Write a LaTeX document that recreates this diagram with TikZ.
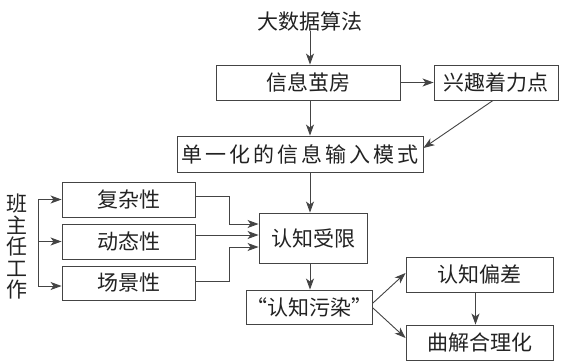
\documentclass[tikz,border=0pt]{standalone}
\usepackage{fontspec}
\newfontfamily\cjk{Noto Sans CJK SC}
\newfontfamily\cjkwide[LetterSpace=14]{Noto Sans CJK SC}
\usetikzlibrary{arrows.meta,calc}
\definecolor{ln}{HTML}{444444}
\definecolor{tx}{HTML}{222222}
\begin{document}
\begin{tikzpicture}[x=1pt,y=-1pt,
  txt/.style={inner sep=0pt, text=tx, font=\cjk\fontsize{21}{24}\selectfont},
  box/.style={txt, draw=ln, line width=0.9pt},
  arr/.style={draw=ln, line width=0.9pt, -{Stealth[length=11pt,width=8pt,inset=3pt]}},
  ln/.style={draw=ln, line width=0.9pt}]
\useasboundingbox (0,0) rectangle (562,362);
\node[txt] (algo) at (310,21) {大数据算法};
\node[box, minimum width=184pt, minimum height=35pt] (cocoon) at (308,82.5) {信息茧房};
\node[box, minimum width=124pt, minimum height=35pt] (interest) at (496,82.5) {兴趣着力点};
\node[box, minimum width=246pt, minimum height=36pt, font=\cjkwide\fontsize{21}{24}\selectfont] (single) at (300,154) {单一化的信息输入模式};
\node[box, minimum width=108pt, minimum height=50pt] (limit) at (313,238) {认知受限};
\node[box, minimum width=133pt, minimum height=35pt] (complex) at (128.5,199.5) {复杂性};
\node[box, minimum width=133pt, minimum height=35pt] (dynamic) at (128.5,241.5) {动态性};
\node[box, minimum width=133pt, minimum height=34pt] (scene) at (128.5,283) {场景性};
\node[box, minimum width=125pt, minimum height=34pt] (pollution) at (309.5,307) {“认知污染”};
\node[box, minimum width=147pt, minimum height=35pt] (bias) at (479.5,274.5) {认知偏差};
\node[box, minimum width=147pt, minimum height=35pt] (rational) at (479.5,342.5) {曲解合理化};
\node[txt, align=center, font=\cjk\fontsize{21}{21.5}\selectfont] (work) at (17,247) {班\\主\\任\\工\\作};
% main axis
\coordinate (axis) at (310,0);
\draw[arr] (algo.south -| axis) -- (axis |- cocoon.north);
\draw[arr] (axis |- cocoon.south) -- (axis |- single.north);
\draw[arr] (axis |- single.south) -- (axis |- limit.north);
\draw[arr] (axis |- limit.south) -- (axis |- pollution.north);
\draw[arr] (cocoon.east) -- (interest.west);
\draw[arr] ([xshift=-3pt]interest.south) -- ([yshift=6pt]single.east);
% left bracket
\coordinate (bx) at (38,0);
\coordinate (s3) at ([yshift=-3pt]scene.west);
\draw[ln] (bx |- complex.west) -- (bx |- s3);
\draw[arr] (bx |- complex.west) -- (complex.west);
\draw[arr] (bx |- dynamic.west) -- (dynamic.west);
\draw[arr] (bx |- s3) -- (s3);
% into limit
\coordinate (mx) at (229,0);
\coordinate (l1) at ([yshift=14pt]limit.west);
\coordinate (l2) at ([yshift=3pt]limit.west);
\coordinate (l3) at ([yshift=-9pt]limit.west);
\coordinate (c1) at ([yshift=3.5pt]complex.east);
\coordinate (c2) at ([yshift=6.5pt]dynamic.east);
\coordinate (c3) at ([yshift=2pt]scene.east);
\draw[arr] (c1) -- (mx |- c1) -- (mx |- l1) -- (l1);
\draw[arr] (c2) -- (l2);
\draw[arr] (c3) -- (mx |- c3) -- (mx |- l3) -- (l3);
% outputs
\draw[arr] ([yshift=4pt]pollution.east) -- ([yshift=1.5pt]bias.west);
\draw[arr] ([yshift=-1pt]pollution.east) -- ([yshift=4.5pt]rational.west);
\draw[arr] ([xshift=-4pt]bias.south) -- ([xshift=-4pt]rational.north);
\end{tikzpicture}
\end{document}
